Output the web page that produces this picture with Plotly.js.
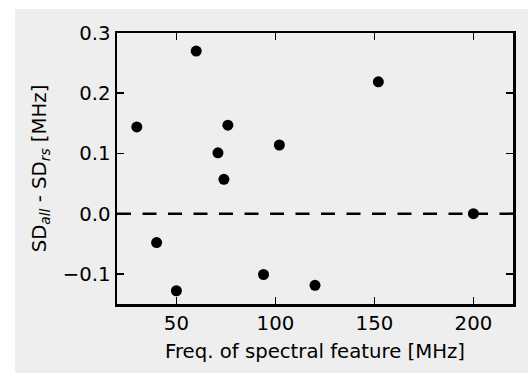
<!DOCTYPE html>
<html>
<head>
<meta charset="utf-8">
<script src="https://cdn.plot.ly/plotly-3.0.1.min.js"></script>
<style>
  html, body { margin: 0; padding: 0; background: #ffffff; }
  #chart { position: absolute; left: 15px; top: 9px; width: 513px; height: 364px; }
</style>
</head>
<body>
<div id="chart"></div>
<script>
// Data
const freqMHz = [30, 40, 50, 60, 71, 74, 76, 94, 102, 120, 152, 200];
const sdDiff  = [0.144, -0.048, -0.128, 0.270, 0.101, 0.057, 0.147, -0.101, 0.114, -0.119, 0.219, 0.0];

const xTitle = 'Freq. of spectral feature [MHz]';
const yTitle = 'SD<sub><i>all</i></sub> - SD<sub><i>rs</i></sub> [MHz]';

const font = { family: 'DejaVu Sans, sans-serif', size: 19.7, color: '#000000' };

const trace = {
  x: freqMHz,
  y: sdDiff,
  type: 'scatter',
  mode: 'markers',
  marker: { color: '#000000', size: 11, line: { width: 0 } },
  hoverinfo: 'skip'
};

const axisCommon = {
  showline: true,
  linecolor: '#000000',
  linewidth: 2.5,
  mirror: 'ticks',
  ticks: 'inside',
  ticklen: 7,
  tickwidth: 1.5,
  tickcolor: '#000000',
  showgrid: false,
  zeroline: false,
  tickfont: font
};

const layout = {
  width: 513,
  height: 364,
  margin: { l: 102, r: 15, t: 24, b: 69 },
  paper_bgcolor: '#eeeeee',
  plot_bgcolor: '#eeeeee',
  font: font,
  showlegend: false,
  xaxis: Object.assign({}, axisCommon, {
    range: [20, 220],
    tick0: 0,
    dtick: 50,
    title: { text: xTitle, font: font, standoff: 10 }
  }),
  yaxis: Object.assign({}, axisCommon, {
    range: [-0.15, 0.3],
    tick0: 0,
    dtick: 0.1,
    tickformat: '.1f',
    title: { text: yTitle, font: font, standoff: 11 }
  }),
  shapes: [{
    type: 'line',
    xref: 'paper', x0: 0, x1: 1,
    yref: 'y', y0: 0, y1: 0,
    line: { color: '#000000', width: 2.5, dash: '14px,11.5px' },
    layer: 'below'
  }]
};

Plotly.newPlot('chart', [trace], layout, { staticPlot: true, displayModeBar: false });
</script>
</body>
</html>
